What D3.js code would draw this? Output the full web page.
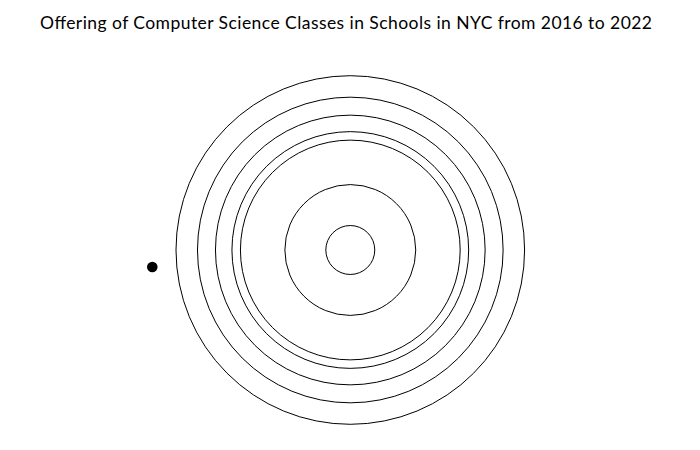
<!DOCTYPE html>
<html>
<head>
<meta charset="utf-8">
<script src="https://cdn.jsdelivr.net/npm/d3@7"></script>
<style>
  html, body { margin: 0; padding: 0; background: #fff; }
  svg { display: block; }
</style>
</head>
<body>
<svg id="chart" width="700" height="450"></svg>
<script>
// Data
const years = ["2016", "2017", "2018", "2019", "2020", "2021", "2022"];
const classCounts = [49, 131, 220, 237, 270, 306, 349];
const title = "Offering of Computer Science Classes in Schools in NYC from 2016 to 2022";
// single marker point
const markerPoint = [{ x: -198, y: 17 }];

const svg = d3.select("#chart");
const cx = 350.3, cy = 250;

const r = d3.scaleLinear().domain([0, d3.max(classCounts)]).range([0, 174.3]);

const data = years.map((y, i) => ({ year: y, value: classCounts[i] }));

const g = svg.append("g").attr("transform", `translate(${cx},${cy})`);

g.selectAll("circle.ring")
  .data(data.slice().sort((a, b) => b.value - a.value))
  .join("circle")
  .attr("class", "ring")
  .attr("r", d => r(d.value))
  .attr("fill", "none")
  .attr("stroke", "#000")
  .attr("stroke-width", 1);

const px = d3.scaleLinear().domain([0, 1]).range([0, 1]);
g.selectAll("circle.marker")
  .data(markerPoint)
  .join("circle")
  .attr("class", "marker")
  .attr("cx", d => px(d.x))
  .attr("cy", d => px(d.y))
  .attr("r", 5.3)
  .attr("fill", "#000");

svg.append("text")
  .attr("x", 346)
  .attr("y", 28.7)
  .attr("text-anchor", "middle")
  .attr("font-family", "Lato, 'Noto Sans', sans-serif")
  .attr("font-size", 17.5)
  .attr("textLength", 612)
  .attr("lengthAdjust", "spacing")
  .attr("fill", "#000")
  .text(title);
</script>
</body>
</html>
